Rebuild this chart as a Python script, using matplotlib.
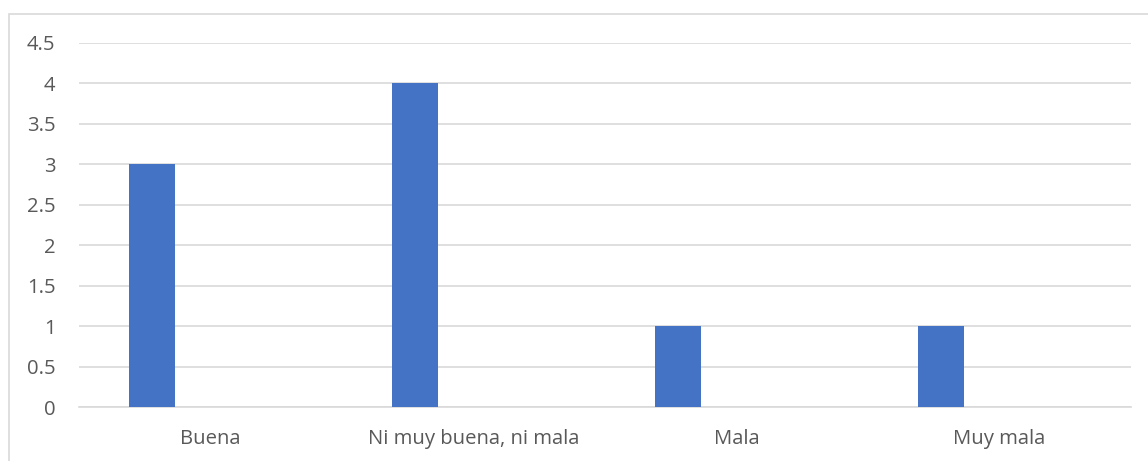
import matplotlib.pyplot as plt
from matplotlib.patches import Rectangle
import numpy as np

categories = ["Buena", "Ni muy buena, ni mala", "Mala", "Muy mala"]
values = [3, 4, 1, 1]
yticks = [0, 0.5, 1, 1.5, 2, 2.5, 3, 3.5, 4, 4.5]
ytick_labels = ["0", "0.5", "1", "1.5", "2", "2.5", "3", "3.5", "4", "4.5"]

plt.rcParams['font.family'] = ['Open Sans', 'DejaVu Sans']

fig = plt.figure(figsize=(11.48, 4.61), dpi=100)
ax = fig.add_axes([79/1148, 1-407/461, (1131-79)/1148, (407-42.7)/461])

x = np.arange(len(categories))
ax.bar(x - 0.2225, values, width=0.175, color="#4472C4", zorder=3)

ax.set_xlim(-0.5, len(categories) - 0.5)
ax.set_ylim(0, 4.5)
ax.set_yticks(yticks)
ax.set_yticklabels(ytick_labels)
ax.set_xticks(x)
ax.set_xticklabels(categories)
ax.tick_params(axis='both', length=0, labelsize=14.6, colors="#595959")
ax.tick_params(axis='y', pad=17)
ax.tick_params(axis='x', pad=16)

ax.grid(axis='y', color="#d9d9d9", linewidth=1.2, zorder=0)
for s in ['top', 'right', 'left']:
    ax.spines[s].set_visible(False)
ax.spines['bottom'].set_color("#d9d9d9")
ax.spines['bottom'].set_linewidth(1.2)

# chart border
fig.patches.append(Rectangle((8.5/1148, -0.1), 1.2, 1 - 13.5/461 + 0.1,
                             transform=fig.transFigure, fill=False,
                             edgecolor="#d9d9d9", linewidth=1.2))

fig.savefig("out.png", dpi=100)
